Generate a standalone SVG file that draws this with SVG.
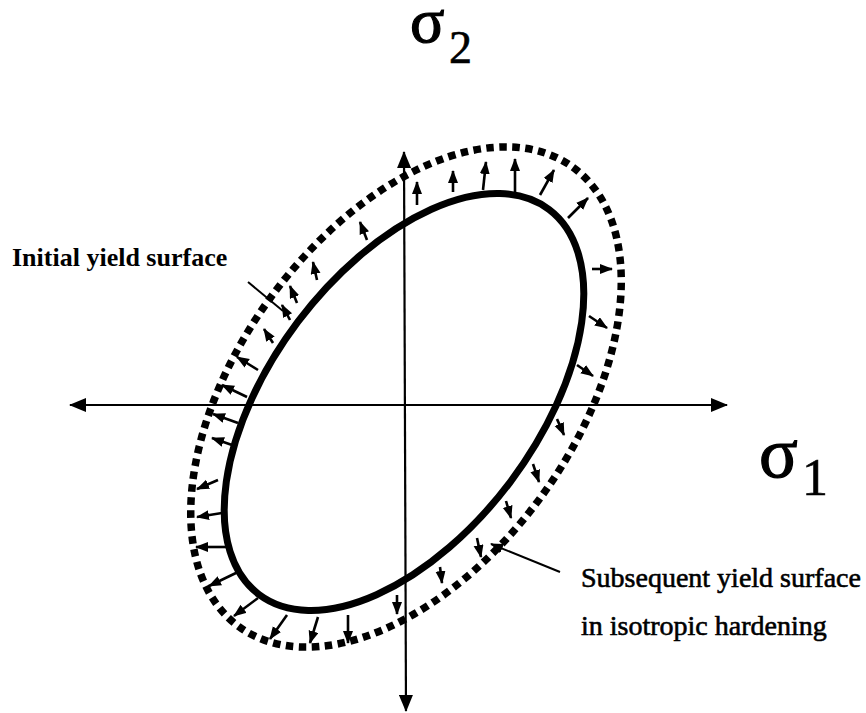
<svg xmlns="http://www.w3.org/2000/svg" width="866" height="713" viewBox="0 0 866 713">
<style>
.t{font-family:"Liberation Serif","Times New Roman",serif;fill:#000}
.b{stroke:#000;stroke-width:0.6}
.bb{stroke:#000;stroke-width:1.2}
.ax{stroke:#000;stroke-width:2.2;fill:none}
.sa{stroke:#000;stroke-width:2.6;fill:none}
</style>
<defs>
<marker id="ah" markerUnits="userSpaceOnUse" markerWidth="18" markerHeight="14" refX="16" refY="7" orient="auto-start-reverse"><path d="M0,0 L17,7 L0,14 z" fill="#000"/></marker>
<marker id="sh" markerUnits="userSpaceOnUse" markerWidth="14" markerHeight="11" refX="12" refY="5" orient="auto"><path d="M0,0 L13,5 L0,10 z" fill="#000"/></marker>
</defs>
<rect width="866" height="713" fill="#fff"/>
<g id="axes">
<line class="ax" x1="70" y1="405" x2="727" y2="405" marker-start="url(#ah)" marker-end="url(#ah)"/>
<line class="ax" x1="404" y1="152" x2="406" y2="711" marker-start="url(#ah)" marker-end="url(#ah)"/>
</g>
<g id="initial-surface">
<ellipse cx="404" cy="402" rx="241" ry="133" transform="rotate(-53 404 402)" fill="none" stroke="#000" stroke-width="7"/>
</g>
<g id="subsequent-surface">
<ellipse cx="406" cy="397" rx="284" ry="168" transform="rotate(-54 406 397)" fill="none" stroke="#000" stroke-width="7.5" stroke-dasharray="7.5 5.5"/>
</g>
<g id="connectors">
<line class="sa" x1="417" y1="205" x2="417" y2="182" marker-end="url(#sh)"/>
<line class="sa" x1="453" y1="192" x2="453" y2="171" marker-end="url(#sh)"/>
<line class="sa" x1="483" y1="190" x2="486" y2="162" marker-end="url(#sh)"/>
<line class="sa" x1="515" y1="192" x2="515" y2="159" marker-end="url(#sh)"/>
<line class="sa" x1="540" y1="195" x2="554" y2="170" marker-end="url(#sh)"/>
<line class="sa" x1="568" y1="218" x2="588" y2="198" marker-end="url(#sh)"/>
<line class="sa" x1="592" y1="269" x2="612" y2="269" marker-end="url(#sh)"/>
<line class="sa" x1="589" y1="316" x2="607" y2="328" marker-end="url(#sh)"/>
<line class="sa" x1="577" y1="365" x2="593" y2="376" marker-end="url(#sh)"/>
<line class="sa" x1="557" y1="419" x2="564" y2="435" marker-end="url(#sh)"/>
<line class="sa" x1="533" y1="464" x2="539" y2="482" marker-end="url(#sh)"/>
<line class="sa" x1="506" y1="501" x2="511" y2="518" marker-end="url(#sh)"/>
<line class="sa" x1="477" y1="538" x2="481" y2="557" marker-end="url(#sh)"/>
<line class="sa" x1="440" y1="567" x2="442" y2="583" marker-end="url(#sh)"/>
<line class="sa" x1="397" y1="595" x2="397" y2="614" marker-end="url(#sh)"/>
<line class="sa" x1="348" y1="615" x2="348" y2="643" marker-end="url(#sh)"/>
<line class="sa" x1="318" y1="617" x2="310" y2="643" marker-end="url(#sh)"/>
<line class="sa" x1="287" y1="615" x2="270" y2="639" marker-end="url(#sh)"/>
<line class="sa" x1="258" y1="598" x2="234" y2="616" marker-end="url(#sh)"/>
<line class="sa" x1="238" y1="572" x2="209" y2="586" marker-end="url(#sh)"/>
<line class="sa" x1="227" y1="547" x2="196" y2="547" marker-end="url(#sh)"/>
<line class="sa" x1="222" y1="513" x2="197" y2="517" marker-end="url(#sh)"/>
<line class="sa" x1="218" y1="480" x2="197" y2="489" marker-end="url(#sh)"/>
<line class="sa" x1="232" y1="445" x2="212" y2="438" marker-end="url(#sh)"/>
<line class="sa" x1="238" y1="423" x2="213" y2="414" marker-end="url(#sh)"/>
<line class="sa" x1="247" y1="397" x2="222" y2="385" marker-end="url(#sh)"/>
<line class="sa" x1="258" y1="370" x2="237" y2="357" marker-end="url(#sh)"/>
<line class="sa" x1="273" y1="343" x2="264" y2="329" marker-end="url(#sh)"/>
<line class="sa" x1="290" y1="320" x2="282" y2="305" marker-end="url(#sh)"/>
<line class="sa" x1="297" y1="303" x2="290" y2="286" marker-end="url(#sh)"/>
<line class="sa" x1="317" y1="280" x2="313" y2="262" marker-end="url(#sh)"/>
<line class="sa" x1="367" y1="240" x2="360" y2="222" marker-end="url(#sh)"/>
<line x1="248" y1="282" x2="283" y2="311" stroke="#000" stroke-width="2"/>
<line x1="560" y1="572" x2="491" y2="544" stroke="#000" stroke-width="2" marker-end="url(#sh)"/>
</g>
<g id="label-sigma2">
<text class="t bb" x="410" y="42" font-size="64">σ</text>
<text class="t b" x="449" y="63" font-size="46">2</text>
</g>
<g id="label-sigma1">
<text class="t bb" x="759" y="477" font-size="72">σ</text>
<text class="t b" x="802" y="495" font-size="52">1</text>
</g>
<g id="label-initial">
<text class="t" x="12" y="266" font-size="26" font-weight="bold">Initial yield surface</text>
</g>
<g id="label-subsequent">
<text class="t b" x="581" y="587" font-size="28">Subsequent yield surface</text>
<text class="t b" x="581" y="635" font-size="28">in isotropic hardening</text>
</g>
</svg>
